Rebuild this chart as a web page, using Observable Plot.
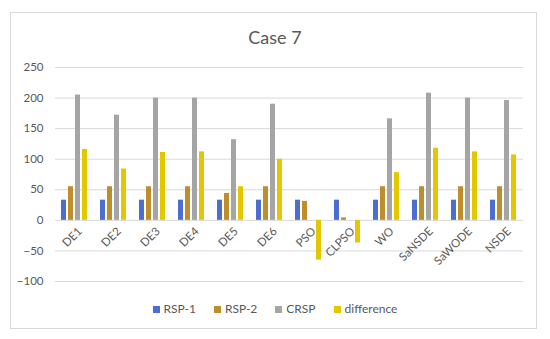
<!DOCTYPE html>
<html>
<head>
<meta charset="utf-8">
<script src="https://cdn.jsdelivr.net/npm/d3@7"></script>
<script src="https://cdn.jsdelivr.net/npm/@observablehq/plot@0.6"></script>
<style>
  html, body { margin: 0; padding: 0; background: #fff; }
  #wrap { position: relative; width: 550px; height: 339px; font-family: Lato, "Open Sans", sans-serif; }
  #border { position: absolute; left: 10px; top: 12px; width: 527px; height: 317px; border: 1px solid #d9d9d9; box-sizing: border-box; }
  #title { position: absolute; left: 0; width: 550px; top: 26px; text-align: center; font-size: 18px; color: #595959; }
  #legend { position: absolute; left: 0; width: 550px; top: 301px; text-align: center; font-size: 12px; color: #595959; }
  #legend span.item { margin: 0 9px; white-space: nowrap; }
  #legend span.sw { display: inline-block; width: 7px; height: 7px; margin-right: 4px; vertical-align: 0px; }
  #chart { position: absolute; left: 0; top: 0; }
</style>
</head>
<body>
<div id="wrap">
  <div id="border"></div>
  <div id="chart"></div>
  <div id="title">Case 7</div>
  <div id="legend"></div>
</div>
<script>
const categories = ["DE1","DE2","DE3","DE4","DE5","DE6","PSO","CLPSO","WO","SaNSDE","SaWODE","NSDE"];
const seriesNames = ["RSP-1","RSP-2","CRSP","difference"];
const rsp1 = [33,33,33,33,33,33,33,33,33,33,33,33];
const rsp2 = [55,55,55,55,44,55,31,4,55,55,55,55];
const crsp = [205,172,200,200,132,190,0,0,166,208,200,196];
const difference = [116,84,111,112,55,100,-65,-37,78,118,112,107];
const yTicks = [-100,-50,0,50,100,150,200,250];
const colors = ["#4a6fd0","#c08d2c","#a5a5a5","#e3c800"];

const seriesValues = [rsp1, rsp2, crsp, difference];
const data = [];
categories.forEach((c, i) => {
  seriesNames.forEach((s, j) => {
    data.push({category: c, series: s, value: seriesValues[j][i]});
  });
});

const chart = Plot.plot({
  width: 550,
  height: 339,
  marginLeft: 55,
  marginRight: 27,
  marginTop: 67,
  marginBottom: 58,
  style: {fontFamily: "Lato, 'Open Sans', sans-serif", fontSize: "11.5px", color: "#595959", background: "transparent"},
  fx: {domain: categories, padding: 0, axis: null},
  x: {domain: seriesNames, paddingInner: 0.28, paddingOuter: 0.9, axis: null},
  y: {domain: [-100, 250], ticks: yTicks, tickSize: 0, tickPadding: 12, grid: false, label: null},
  color: {domain: seriesNames, range: colors},
  marks: [
    Plot.ruleY(yTicks, {stroke: "#d9d9d9", strokeWidth: 1}),
    Plot.barY(data, {fx: "category", x: "series", y: "value", fill: "series"}),
    Plot.text(categories, {fx: d => d, y: () => 0, text: d => d, rotate: -45, textAnchor: "end", dx: 5, dy: 9, fill: "#595959", fontSize: 11.5})
  ]
});
document.getElementById("chart").appendChild(chart);

const legend = document.getElementById("legend");
seriesNames.forEach((s, j) => {
  const item = document.createElement("span");
  item.className = "item";
  const sw = document.createElement("span");
  sw.className = "sw";
  sw.style.background = colors[j];
  item.appendChild(sw);
  item.appendChild(document.createTextNode(s));
  legend.appendChild(item);
});
</script>
</body>
</html>
